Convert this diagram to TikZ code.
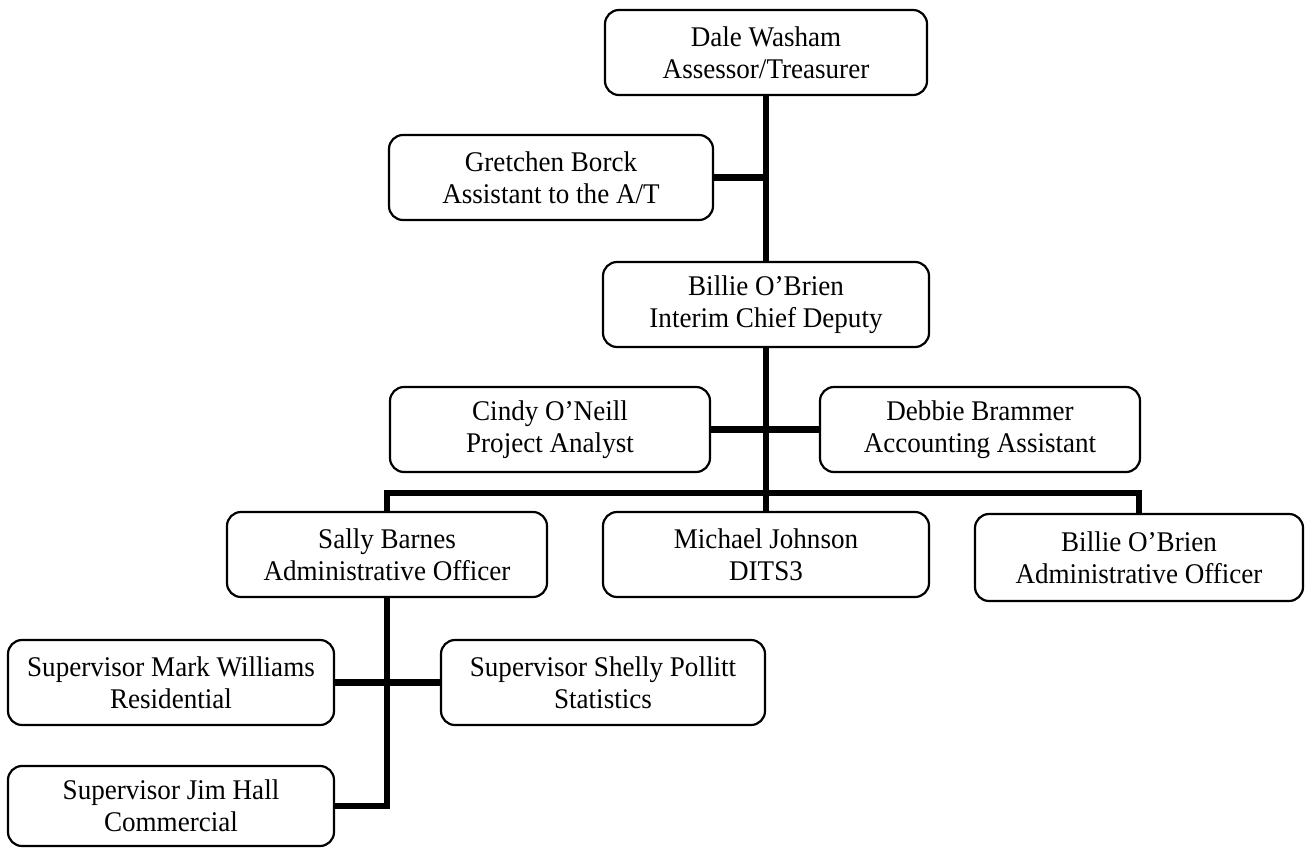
\documentclass[tikz,border=0pt]{standalone}
\usepackage{fontspec}
\setmainfont{Liberation Serif}[FakeStretch=0.95]
\begin{document}
\begin{tikzpicture}[x=1pt,y=-1pt,
  box/.style={draw, line width=2.2pt, rounded corners=14pt, align=center,
    font=\fontsize{28.5}{32}\selectfont, inner sep=0pt, minimum height=85pt},
  conn/.style={line width=6.5pt}]
\useasboundingbox (0,0) rectangle (1305,848);
\node[box, minimum width=322pt] (dale) at (766,52.5) {Dale Washam\\Assessor/Treasurer};
\node[box, minimum width=324pt] (gret) at (551,177.5) {Gretchen Borck\\Assistant to the A/T};
\node[box, minimum width=326pt] (bil1) at (766,304.5) {Billie O'Brien\\Interim Chief Deputy};
\node[box, minimum width=320pt] (cindy) at (550,429.5) {Cindy O'Neill\\Project Analyst};
\node[box, minimum width=320pt] (debbie) at (980,429.5) {Debbie Brammer\\Accounting Assistant};
\node[box, minimum width=320pt] (sally) at (387,554.5) {Sally Barnes\\Administrative Officer};
\node[box, minimum width=326pt] (mich) at (766,554.5) {Michael Johnson\\DITS3};
\node[box, minimum width=328pt, minimum height=87pt] (bil2) at (1139,557.5) {Billie O'Brien\\Administrative Officer};
\node[box, minimum width=326pt] (mark) at (171,682.5) {Supervisor Mark Williams\\Residential};
\node[box, minimum width=324pt] (shelly) at (603,682.5) {Supervisor Shelly Pollitt\\Statistics};
\node[box, minimum width=326pt, minimum height=80pt] (jim) at (171,806) {Supervisor Jim Hall\\Commercial};
\coordinate (bus) at (766,493);
\draw[conn] (dale.south) -- (bil1.north);
\draw[conn] (gret.east) -- (gret.east -| dale.south);
\draw[conn] (bil1.south) -- (mich.north);
\draw[conn] (cindy.east) -- (debbie.west);
\draw[conn] (sally.north) -- (sally.north |- bus) -- (bil2.north |- bus) -- (bil2.north);
\draw[conn] (sally.south) -- (sally.south |- jim.east) -- (jim.east);
\draw[conn] (mark.east) -- (shelly.west);
\end{tikzpicture}
\end{document}
